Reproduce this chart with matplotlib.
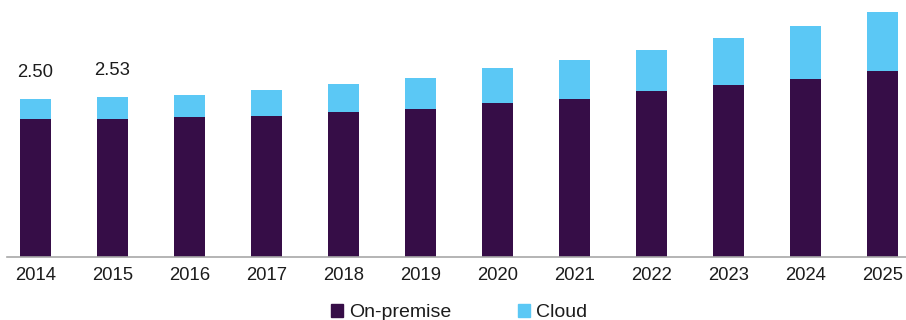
import matplotlib
matplotlib.use("Agg")
import matplotlib.pyplot as plt
from matplotlib.patches import Patch

plt.rcParams['font.family'] = ['Liberation Sans', 'DejaVu Sans']

years = ["2014", "2015", "2016", "2017", "2018", "2019", "2020", "2021", "2022", "2023", "2024", "2025"]
on_premise = [2.18, 2.18, 2.21, 2.23, 2.29, 2.34, 2.44, 2.50, 2.62, 2.72, 2.82, 2.95]
cloud = [0.32, 0.35, 0.36, 0.41, 0.44, 0.50, 0.55, 0.62, 0.66, 0.75, 0.84, 0.92]
labeled = {0: "2.50", 1: "2.53"}

c_on = "#360d47"
c_cloud = "#5bc8f5"
txt_c = "#1c1c1c"

fig = plt.figure(figsize=(9.06, 3.2), dpi=100)
ax = fig.add_axes([7/906, 1 - 257/320, 1 - 7/906, 257/320])

x = list(range(len(years)))
ax.bar(x, on_premise, width=0.405, color=c_on)
ax.bar(x, cloud, width=0.405, bottom=on_premise, color=c_cloud)

for i, txt in labeled.items():
    ax.annotate(txt, (i, on_premise[i] + cloud[i]), xytext=(0, 13), textcoords="offset points",
                ha="center", va="bottom", fontsize=13.3, color=txt_c)

ax.set_xlim(-0.37, 11.3)
ax.set_ylim(0, 257/63.2)
ax.set_xticks(x)
ax.set_xticklabels(years, fontsize=13.3)
ax.tick_params(axis="x", length=0, pad=7.5, colors=txt_c)
ax.set_yticks([])
for s in ["top", "right", "left"]:
    ax.spines[s].set_visible(False)
ax.spines["bottom"].set_color("#a8a8a8")
ax.spines["bottom"].set_linewidth(1.2)

handles = [Patch(color=c_on, label="On-premise"), Patch(color=c_cloud, label="Cloud")]
fig.legend(handles=handles, loc="center", bbox_to_anchor=(0.507, 0.022), ncol=2, frameon=False,
           fontsize=14, handlelength=0.6, handleheight=0.6, handletextpad=0.35, columnspacing=3.4,
           labelcolor=txt_c, borderpad=0)

fig.savefig("out.png", dpi=100)
